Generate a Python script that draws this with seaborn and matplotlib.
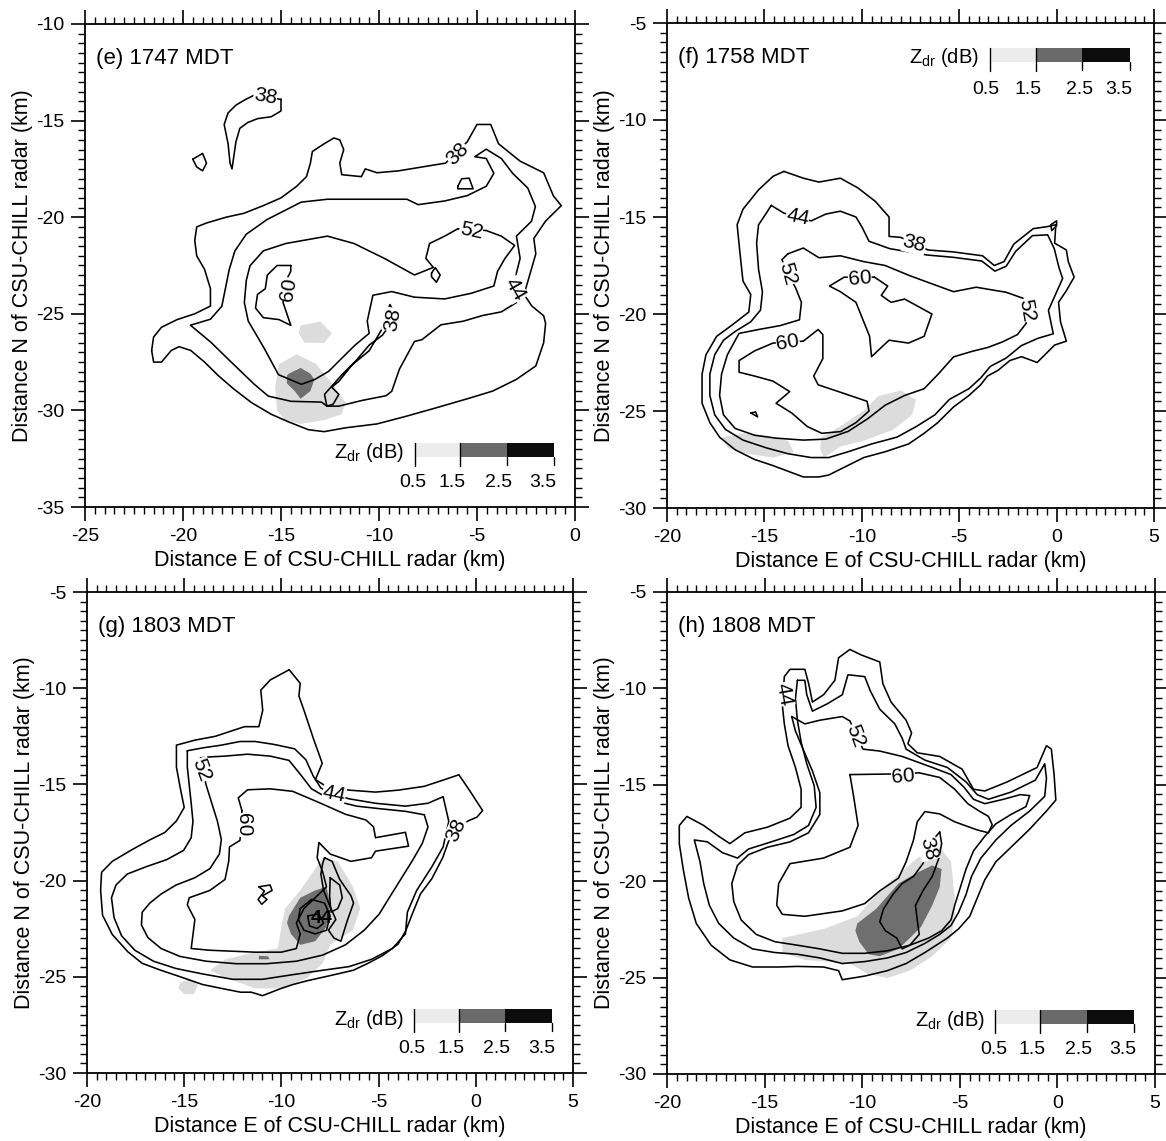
import numpy as np
import pandas as pd
import matplotlib
matplotlib.use("Agg")
import matplotlib.pyplot as plt
from matplotlib.ticker import MultipleLocator
from matplotlib.patches import Rectangle
import seaborn as sns

sns.set_theme(style="ticks")
plt.rcParams['font.family'] = ['Liberation Sans', 'DejaVu Sans']
plt.rcParams['axes.unicode_minus'] = False
for k in ['text.color', 'axes.labelcolor', 'xtick.color', 'ytick.color', 'axes.edgecolor']:
    plt.rcParams[k] = 'black'

# ---------------- panel (e) 1747 MDT ----------------
E38_NW = [(-15.0, -13.9), (-15.0, -14.5), (-15.5, -14.8), (-16.2, -14.9), (-16.7, -15.1), (-17.1, -15.4),
          (-17.3, -16.1), (-17.4, -16.8), (-17.5, -17.5), (-17.6, -17.2), (-17.7, -16.2), (-17.9, -15.2),
          (-17.7, -14.6), (-17.3, -14.2), (-16.8, -13.9), (-16.4, -13.7), (-15.0, -13.9)]
E38_BLOB = [(-19.5, -17.0), (-19.0, -16.7), (-18.8, -17.2), (-19.0, -17.6), (-19.3, -17.4), (-19.5, -17.0)]
E38_BLOB2 = [(-5.98, -18.4), (-5.78, -18.01), (-5.4, -17.98), (-5.2, -18.53), (-5.98, -18.53), (-5.98, -18.4)]
E38_OUTER = [(-21.6, -26.9), (-21.5, -26.2), (-21.1, -25.7), (-20.3, -25.3), (-19.4, -25.0), (-18.6, -24.6),
             (-18.6, -23.7), (-18.9, -22.7), (-19.3, -22.0), (-19.4, -21.2), (-19.3, -20.5), (-18.8, -20.3),
             (-17.8, -20.0), (-16.9, -19.8), (-15.9, -19.4), (-15.0, -19.0), (-14.2, -18.4), (-13.7, -17.9),
             (-13.5, -17.2), (-13.4, -16.6), (-12.8, -16.2), (-12.3, -15.9), (-12.0, -16.0), (-11.8, -16.5),
             (-12.0, -17.2), (-11.9, -17.8), (-10.9, -17.9), (-10.7, -17.5), (-10.1, -17.7), (-9.0, -17.6),
             (-7.8, -17.4), (-6.6, -17.2), (-5.5, -16.1), (-5.0, -15.2), (-4.3, -15.2), (-3.9, -16.2),
             (-2.8, -17.1), (-1.6, -17.7), (-1.1, -18.9), (-0.7, -19.4), (-1.5, -20.2), (-2.1, -21.1),
             (-2.0, -21.9), (-2.4, -23.3), (-2.6, -24.0), (-2.2, -24.6), (-1.6, -25.1), (-1.5, -25.5),
             (-1.6, -26.5), (-2.0, -27.7), (-3.0, -28.4), (-4.2, -29.0), (-5.5, -29.4), (-7.2, -29.9),
             (-8.6, -30.3), (-10.1, -30.7), (-11.7, -30.9), (-12.8, -31.1), (-13.6, -31.0), (-14.6, -30.6),
             (-15.5, -30.2), (-16.5, -29.6), (-17.4, -28.9), (-18.2, -28.2), (-18.9, -27.5), (-19.6, -26.9),
             (-20.2, -26.7), (-20.6, -26.9), (-21.1, -27.5), (-21.5, -27.5), (-21.6, -26.9)]
E38_NOTCH = [(-12.66, -29.78), (-12.78, -29.17), (-11.89, -28.15), (-11.22, -27.48), (-10.5, -26.62),
             (-9.83, -26.11), (-9.44, -25.57), (-9.25, -24.9), (-9.44, -24.52), (-9.64, -25.0), (-9.83, -25.76),
             (-10.5, -26.91), (-11.37, -27.64), (-12.05, -28.5), (-12.41, -28.8), (-12.05, -29.17),
             (-12.34, -29.68), (-12.66, -29.78)]
E44 = [(-12.66, -29.78), (-12.93, -29.57), (-14.48, -29.53), (-15.65, -29.26), (-16.36, -28.65), (-17.56, -27.48),
       (-18.58, -26.47), (-19.62, -25.59), (-18.6, -25.28), (-18.02, -24.61), (-17.83, -23.66), (-17.64, -22.7),
       (-17.35, -21.74), (-16.77, -20.88), (-15.71, -20.12), (-13.97, -19.22), (-12.63, -19.07), (-10.12, -19.07),
       (-8.58, -19.07), (-8.0, -19.35), (-6.65, -19.16), (-5.49, -18.88), (-4.53, -18.4), (-4.14, -17.73),
       (-4.53, -16.96), (-5.11, -16.87), (-4.53, -16.48), (-3.76, -16.96), (-3.18, -17.73), (-2.41, -18.49),
       (-2.02, -19.45), (-2.22, -20.21), (-2.99, -20.98), (-2.8, -22.13), (-2.99, -22.89), (-3.08, -23.75),
       (-2.99, -24.42), (-3.76, -24.9), (-4.72, -25.09), (-5.69, -25.38), (-6.84, -25.57), (-7.81, -26.34),
       (-8.19, -26.43), (-8.96, -27.87), (-9.35, -29.01), (-9.64, -29.24), (-10.89, -29.49), (-12.05, -29.78),
       (-12.66, -29.78)]
E52 = [(-5.98, -20.6), (-6.65, -20.98), (-7.42, -21.36), (-7.61, -22.13), (-7.23, -22.6), (-8.19, -22.99),
       (-9.73, -22.13), (-11.28, -21.36), (-12.63, -20.98), (-14.75, -21.36), (-15.9, -21.74), (-16.58, -22.51),
       (-16.77, -23.27), (-16.87, -24.42), (-16.67, -25.38), (-15.86, -26.78), (-15.13, -28.15), (-13.96, -28.65),
       (-13.28, -28.4), (-12.57, -27.98), (-11.89, -27.29), (-11.22, -26.62), (-10.5, -26.01), (-10.6, -25.38),
       (-10.31, -24.04), (-9.35, -23.85), (-8.19, -24.14), (-6.65, -24.23), (-5.3, -23.94), (-4.14, -23.56),
       (-3.95, -22.8), (-3.57, -22.13), (-3.08, -21.46), (-3.76, -20.98), (-4.53, -20.69), (-5.98, -20.6)]
E52_DOT = [(-7.32, -22.89), (-7.13, -22.61), (-6.88, -22.99), (-7.07, -23.37), (-7.32, -23.08), (-7.32, -22.89)]
E60 = [(-14.5, -22.5), (-15.2, -22.5), (-15.7, -23.0), (-15.8, -23.7), (-16.2, -24.0), (-16.3, -24.7),
       (-15.9, -25.2), (-15.1, -25.3), (-14.5, -25.6), (-14.7, -25.0), (-14.9, -24.4), (-14.6, -23.7),
       (-14.7, -23.2), (-14.5, -22.8), (-14.5, -22.5)]
E_LABELS = [("38", -15.8, -13.75, -10), ("38", -6.0, -16.7, 45), ("60", -14.6, -23.75, 80),
            ("38", -9.3, -25.3, 80), ("44", -3.08, -23.75, -60), ("52", -5.3, -20.69, -12)]
E_ZDR_LIGHT = [[(-15.1, -27.6), (-14.2, -27.1), (-13.2, -27.6), (-12.4, -28.6), (-11.7, -29.6), (-11.9, -30.2),
                (-12.8, -30.5), (-14.0, -30.7), (-14.8, -30.5), (-15.2, -30.0), (-15.3, -28.8)],
               [(-14.0, -25.6), (-13.0, -25.4), (-12.4, -26.0), (-12.8, -26.5), (-13.8, -26.5), (-14.1, -26.0)]]
E_ZDR_MID = [[(-14.6, -28.1), (-14.0, -27.8), (-13.5, -28.1), (-13.3, -28.4), (-13.5, -29.0), (-14.0, -29.4),
              (-14.3, -29.0), (-14.7, -28.6), (-14.7, -28.2)]]

# ---------------- panel (f) 1758 MDT ----------------
F38 = [(-14.0, -12.65), (-13.0, -13.0), (-12.2, -13.2), (-11.1, -13.0), (-10.2, -13.5), (-9.3, -14.2),
       (-8.6, -15.0), (-8.6, -16.0), (-8.0, -16.05), (-6.6, -16.7), (-5.3, -16.8), (-3.8, -17.0),
       (-3.2, -17.5), (-2.7, -17.3), (-2.2, -16.4), (-1.2, -15.6), (-0.5, -15.5), (-0.04, -15.4),
       (-0.1, -16.35), (0.5, -16.7), (0.6, -17.3), (0.9, -18.1), (0.5, -18.8), (0.1, -19.4), (0.2, -20.4),
       (0.5, -21.4), (-0.1, -21.6), (-1.0, -22.5), (-1.8, -22.2), (-2.4, -22.4), (-3.0, -22.9), (-3.55, -23.2),
       (-3.9, -23.65), (-4.5, -24.2), (-5.3, -24.8), (-6.1, -25.6), (-6.8, -26.15), (-7.6, -26.7),
       (-8.8, -27.1), (-9.9, -27.4), (-10.7, -27.8), (-11.7, -28.3), (-12.2, -28.4), (-13.0, -28.4),
       (-13.8, -28.1), (-14.6, -27.8), (-15.5, -27.5), (-16.5, -27.0), (-17.3, -26.35), (-17.8, -25.6),
       (-18.2, -24.6), (-18.2, -23.1), (-18.0, -22.1), (-17.45, -21.15), (-16.7, -20.6), (-15.8, -19.9),
       (-15.7, -19.0), (-16.1, -18.3), (-16.25, -16.9), (-16.4, -15.4), (-16.1, -14.6), (-15.3, -13.6),
       (-14.55, -12.9), (-14.0, -12.65)]
F38_TAIL = [(-0.3, -15.4), (0.0, -15.2), (0.0, -15.45), (-0.25, -15.7), (-0.3, -15.4)]
F44 = [(-14.65, -14.4), (-14.0, -14.8), (-12.6, -15.2), (-11.85, -14.85), (-11.1, -14.7), (-10.3, -15.0),
       (-10.0, -15.5), (-9.63, -16.25), (-8.57, -16.63), (-6.64, -16.96), (-5.29, -17.08), (-3.84, -17.27),
       (-3.17, -17.79), (-2.59, -17.54), (-2.1, -16.77), (-1.24, -15.96), (-0.46, -15.92), (-0.12, -16.63),
       (0.12, -17.6), (0.31, -18.17), (-0.42, -19.81), (-0.17, -21.02), (-0.95, -21.25), (-1.81, -21.63),
       (-2.59, -22.27), (-3.4, -22.7), (-3.9, -23.3), (-4.5, -23.85), (-5.5, -24.4), (-6.25, -25.2),
       (-7.2, -25.8), (-8.2, -26.35), (-9.5, -26.7), (-10.7, -27.1), (-11.7, -27.4), (-12.6, -27.4),
       (-13.8, -27.2), (-14.9, -26.9), (-16.1, -26.5), (-17.0, -25.95), (-17.55, -25.2), (-17.8, -24.2),
       (-17.8, -23.1), (-17.55, -22.1), (-17.1, -21.35), (-16.5, -20.9), (-15.7, -20.4), (-15.2, -19.8),
       (-15.1, -18.85), (-15.3, -17.7), (-15.4, -16.35), (-15.3, -15.4), (-14.9, -14.8), (-14.65, -14.4)]
F52 = [(-13.8, -16.9), (-13.0, -16.6), (-12.2, -17.1), (-11.1, -17.0), (-9.9, -17.3), (-8.8, -17.5),
       (-7.6, -18.0), (-6.25, -18.5), (-5.29, -18.85), (-4.13, -18.62), (-2.59, -18.88), (-1.72, -19.19),
       (-1.53, -19.81), (-1.56, -20.48), (-2.01, -21.06), (-2.78, -21.44), (-3.55, -21.73), (-4.32, -21.92),
       (-5.29, -22.21), (-6.06, -23.08), (-6.8, -23.85), (-7.8, -24.2), (-8.8, -24.7), (-9.7, -25.4),
       (-10.7, -26.05), (-11.85, -26.45), (-13.0, -26.5), (-14.4, -26.4), (-15.5, -26.25), (-16.5, -25.9),
       (-17.1, -25.2), (-17.3, -24.2), (-17.2, -23.1), (-16.9, -22.1), (-16.3, -21.0), (-15.3, -20.8),
       (-14.2, -20.6), (-13.2, -20.3), (-13.1, -19.4), (-13.4, -18.65), (-13.8, -17.9), (-14.1, -17.2),
       (-13.8, -16.9)]
F60_N = [(-9.35, -18.1), (-8.67, -18.56), (-9.0, -19.04), (-8.5, -19.4), (-7.8, -19.23), (-6.4, -20.0),
         (-6.8, -21.15), (-7.6, -21.5), (-8.6, -21.35), (-9.5, -22.2), (-9.6, -21.15), (-9.9, -20.4),
         (-10.3, -19.4), (-11.1, -18.85), (-11.66, -18.56), (-10.9, -18.1), (-9.35, -18.1)]
F60_S = [(-13.0, -21.4), (-12.24, -20.8), (-12.0, -21.06), (-12.0, -22.3), (-12.47, -23.2), (-12.24, -23.65),
         (-11.08, -24.04), (-9.73, -24.5), (-9.63, -25.0), (-10.3, -25.6), (-11.08, -26.06), (-12.05, -26.15),
         (-12.8, -25.8), (-13.6, -25.1), (-14.4, -24.6), (-13.7, -24.0), (-14.56, -23.46), (-15.5, -23.2),
         (-16.3, -23.0), (-16.3, -22.4), (-15.5, -21.9), (-14.56, -21.5), (-13.0, -21.4)]
F60_DOT = [(-15.7, -25.1), (-15.45, -25.05), (-15.35, -25.3), (-15.7, -25.1)]
F_LABELS = [("38", -7.3, -16.4, -15), ("44", -13.3, -15.0, -12), ("52", -13.8, -17.9, -75),
            ("52", -1.53, -19.8, -80), ("60", -10.1, -18.15, 5), ("60", -13.8, -21.45, 10)]
F_ZDR_LIGHT = [[(-12.05, -26.35), (-11.08, -25.77), (-9.92, -25.0), (-9.15, -24.23), (-7.99, -23.94),
                (-7.22, -24.42), (-7.41, -25.19), (-8.38, -25.96), (-9.92, -26.54), (-11.08, -26.83),
                (-11.95, -27.4), (-12.14, -26.92)],
               [(-17.16, -26.35), (-16.1, -26.15), (-14.94, -26.25), (-13.78, -26.54), (-13.49, -27.12),
                (-14.55, -27.4), (-15.9, -27.2), (-16.87, -26.92)]]
F_ZDR_MID = []

# ---------------- panel (g) 1803 MDT ----------------
G38 = [(-9.6, -9.04), (-9.03, -9.75), (-9.1, -10.4), (-8.8, -11.26), (-8.36, -12.6), (-7.9, -13.9),
       (-8.25, -14.75), (-7.7, -15.1), (-6.5, -15.3), (-5.16, -15.4), (-4.0, -15.3), (-2.65, -15.1),
       (-1.6, -14.75), (-0.87, -14.5), (-0.33, -15.3), (0.35, -16.36), (0.06, -16.7), (-0.4, -16.9),
       (-1.0, -17.4), (-1.4, -17.96), (-1.7, -18.8), (-2.26, -19.9), (-2.85, -20.7), (-3.23, -21.64),
       (-3.6, -22.6), (-4.0, -23.3), (-4.8, -23.9), (-5.55, -24.3), (-6.3, -24.66), (-7.5, -24.94),
       (-8.65, -25.2), (-9.4, -25.4), (-10.0, -25.6), (-10.97, -25.98), (-11.55, -25.8), (-12.1, -25.8),
       (-13.1, -25.6), (-14.06, -25.4), (-15.2, -25.0), (-16.2, -24.66), (-17.16, -24.3), (-17.9, -23.7),
       (-18.7, -22.8), (-19.2, -21.8), (-19.3, -20.5), (-19.25, -19.57), (-18.7, -19.0), (-17.7, -18.4),
       (-16.8, -17.9), (-16.0, -17.5), (-15.4, -16.9), (-15.0, -16.2), (-15.2, -15.2), (-15.4, -14.1),
       (-15.4, -12.96), (-14.45, -12.7), (-13.4, -12.5), (-12.5, -12.2), (-11.9, -12.0), (-11.16, -12.0),
       (-10.96, -11.15), (-11.06, -10.1), (-10.57, -9.57), (-9.6, -9.04)]
G44 = [(-14.84, -13.25), (-13.97, -13.09), (-13.09, -12.96), (-12.13, -12.77), (-11.35, -12.77), (-10.39, -12.92),
       (-9.32, -13.15), (-8.74, -13.72), (-8.36, -14.57), (-7.97, -15.19), (-7.29, -15.51), (-6.52, -15.75),
       (-5.16, -15.98), (-3.62, -16.13), (-2.46, -15.98), (-1.68, -15.64), (-1.39, -16.92), (-1.68, -18.25),
       (-2.26, -19.28), (-3.04, -20.51), (-3.52, -21.64), (-3.62, -22.77), (-4.29, -23.53), (-5.36, -24.09),
       (-6.52, -24.47), (-7.87, -24.66), (-9.42, -24.89), (-10.97, -25.13), (-12.51, -25.13), (-14.06, -24.85),
       (-15.42, -24.57), (-16.58, -24.19), (-17.54, -23.62), (-18.22, -22.87), (-18.61, -21.92), (-18.74, -20.89),
       (-18.51, -20.23), (-17.93, -19.66), (-16.96, -19.28), (-15.9, -18.91), (-15.03, -18.43), (-14.64, -17.77),
       (-14.55, -16.92), (-14.64, -15.98), (-14.74, -15.04), (-14.84, -14.09), (-14.84, -13.25)]
G52 = [(-14.16, -13.62), (-14.06, -14.19), (-13.87, -15.04), (-13.58, -15.98), (-13.29, -16.92), (-13.09, -17.87),
       (-13.19, -18.62), (-13.68, -19.38), (-14.45, -19.85), (-15.42, -20.23), (-16.19, -20.7), (-16.77, -21.17),
       (-17.16, -21.64), (-17.2, -22.3), (-16.87, -22.96), (-16.19, -23.53), (-15.22, -23.94), (-13.87, -24.19),
       (-12.32, -24.32), (-10.77, -24.32), (-9.23, -24.19), (-7.87, -23.87), (-6.71, -23.34), (-5.74, -22.58),
       (-4.97, -21.74), (-4.39, -20.79), (-3.81, -19.85), (-3.23, -18.91), (-2.75, -18.06), (-2.46, -17.21),
       (-2.65, -16.58), (-3.62, -16.4), (-4.97, -16.26), (-6.13, -16.13), (-7.49, -15.79), (-8.45, -15.23),
       (-9.03, -14.47), (-9.61, -13.75), (-10.58, -13.53), (-11.74, -13.43), (-12.9, -13.53), (-13.68, -13.57),
       (-14.16, -13.62)]
G60 = [(-12.03, -16.36), (-12.22, -15.7), (-11.74, -15.28), (-10.58, -15.23), (-9.42, -15.36), (-8.07, -15.94),
       (-6.71, -16.55), (-5.65, -16.85), (-5.26, -17.21), (-5.16, -17.77), (-3.62, -17.49), (-3.46, -18.21),
       (-5.16, -18.47), (-5.36, -18.81), (-6.42, -19.0), (-7.49, -18.62), (-8.07, -18.02), (-8.16, -18.81),
       (-7.87, -19.57), (-7.68, -20.32), (-8.26, -20.89), (-8.84, -21.45), (-9.23, -22.21), (-9.03, -22.77),
       (-9.23, -23.53), (-10.0, -23.72), (-11.35, -23.72), (-13.68, -23.62), (-14.64, -23.53), (-14.45, -22.02),
       (-14.84, -21.26), (-14.74, -20.89), (-13.68, -20.51), (-12.9, -19.94), (-12.71, -19.0), (-12.67, -18.25),
       (-12.13, -17.91), (-12.03, -16.36)]
G_IN1 = [(-7.78, -18.81), (-7.39, -19.0), (-7.0, -19.94), (-6.42, -20.79), (-6.29, -21.17), (-6.62, -22.11),
         (-6.94, -23.15), (-7.29, -22.99), (-7.58, -22.58), (-7.2, -22.02), (-7.49, -21.36), (-7.83, -20.51),
         (-7.97, -19.66), (-7.87, -19.09), (-7.78, -18.81)]
G_IN2 = [(-7.49, -19.85), (-7.0, -20.23), (-6.87, -20.89), (-7.1, -21.45), (-7.45, -21.64), (-7.52, -20.79),
         (-7.49, -19.85)]
G_IN3 = [(-9.03, -21.45), (-8.45, -20.98), (-7.78, -21.17), (-7.49, -21.83), (-7.68, -22.58), (-8.26, -22.77),
         (-8.84, -22.58), (-9.13, -22.02), (-9.03, -21.45)]
G_IN4 = [(-8.65, -21.83), (-8.07, -21.74), (-7.83, -22.21), (-8.16, -22.49), (-8.55, -22.36), (-8.65, -21.83)]
G_HOOK = [(-11.16, -20.32), (-10.58, -20.23), (-10.48, -20.51), (-10.97, -20.79), (-10.74, -20.98),
          (-11.01, -21.23), (-11.2, -20.98), (-10.87, -20.55), (-11.16, -20.32)]
G_LABELS = [("38", -1.0, -17.4, 65), ("44", -7.29, -15.51, -12), ("52", -14.1, -14.25, -70),
            ("60", -11.95, -17.1, -90)]
G_ZDR_LIGHT = [[(-9.81, -21.45), (-9.03, -20.51), (-7.87, -18.81), (-7.1, -19.0), (-6.32, -20.32),
                (-5.94, -21.45), (-6.32, -22.58), (-7.49, -23.34), (-7.87, -24.28), (-8.65, -25.04),
                (-9.81, -25.6), (-11.35, -25.6), (-12.9, -25.04), (-13.67, -24.66), (-12.9, -24.1),
                (-11.35, -23.72), (-10.19, -23.53), (-10.0, -22.4)],
               [(-15.2, -25.3), (-14.7, -25.1), (-14.3, -25.4), (-14.5, -25.9), (-15.0, -25.9), (-15.3, -25.6)]]
G_ZDR_MID = [[(-9.61, -21.83), (-9.03, -20.89), (-8.26, -20.51), (-7.68, -20.32), (-7.49, -21.26),
              (-7.68, -22.4), (-8.26, -23.15), (-9.03, -23.34), (-9.51, -22.77), (-9.71, -22.2)],
             [(-11.16, -23.91), (-10.68, -23.94), (-10.62, -24.09), (-11.16, -24.09)]]

# ---------------- panel (h) 1808 MDT ----------------
H38 = [(-11.21, -8.41), (-10.63, -7.98), (-10.06, -8.26), (-9.1, -8.63), (-8.94, -9.76), (-8.52, -10.71),
       (-7.75, -11.65), (-7.47, -12.31), (-7.66, -12.87), (-7.18, -13.34), (-6.03, -13.53), (-4.88, -14.19),
       (-4.3, -15.23), (-3.72, -15.32), (-2.57, -14.85), (-1.04, -14.1), (-0.56, -12.97), (-0.31, -13.15),
       (-0.17, -14.47), (-0.08, -15.79), (-0.56, -16.36), (-1.42, -17.3), (-2.38, -18.24), (-3.15, -18.99),
       (-3.72, -19.93), (-4.11, -20.88), (-4.49, -21.82), (-5.07, -22.48), (-5.64, -22.95), (-6.79, -23.7),
       (-7.75, -24.27), (-8.71, -24.64), (-9.87, -24.92), (-11.02, -25.11), (-11.21, -24.64), (-11.98, -24.45),
       (-13.32, -24.42), (-14.28, -24.45), (-15.62, -24.45), (-16.78, -24.08), (-17.74, -23.32), (-18.5, -22.19),
       (-18.89, -20.88), (-19.17, -19.37), (-19.37, -18.05), (-19.37, -17.11), (-18.98, -16.64), (-18.12, -17.11),
       (-17.35, -17.67), (-16.78, -18.05), (-16.01, -17.49), (-14.86, -17.2), (-13.7, -16.73), (-13.13, -16.17),
       (-13.13, -15.23), (-13.42, -14.1), (-13.8, -12.97), (-13.99, -11.84), (-14.09, -10.89), (-13.99, -9.39),
       (-13.7, -9.01), (-12.94, -9.01), (-12.74, -9.76), (-12.55, -10.71), (-11.98, -10.33), (-11.4, -9.58),
       (-11.21, -8.41)]
H44 = [(-13.32, -9.58), (-12.94, -9.58), (-12.84, -10.33), (-12.55, -11.18), (-11.79, -10.8), (-11.02, -10.33),
       (-10.73, -9.29), (-9.87, -9.39), (-9.58, -10.14), (-9.1, -11.08), (-8.33, -11.84), (-7.95, -12.59),
       (-7.75, -13.15), (-6.79, -13.72), (-5.64, -14.1), (-4.68, -14.85), (-4.11, -15.51), (-3.53, -15.75),
       (-2.38, -15.38), (-1.13, -14.76), (-0.65, -13.91), (-0.56, -14.66), (-0.65, -15.6), (-1.42, -16.36),
       (-2.38, -17.11), (-3.15, -17.86), (-3.92, -18.8), (-4.4, -19.75), (-4.68, -20.69), (-5.07, -21.63),
       (-5.45, -22.29), (-6.03, -22.76), (-6.8, -23.23), (-7.75, -23.7), (-8.71, -23.98), (-9.87, -24.17),
       (-11.02, -24.27), (-12.17, -23.98), (-13.32, -23.79), (-14.47, -23.7), (-15.62, -23.51), (-16.58, -22.95),
       (-17.35, -22.19), (-17.83, -21.25), (-18.12, -20.12), (-18.31, -18.99), (-18.6, -17.86), (-17.93, -17.96),
       (-17.16, -18.52), (-16.39, -18.8), (-15.82, -18.33), (-14.66, -17.96), (-13.51, -17.58), (-12.75, -17.11),
       (-12.36, -16.17), (-12.46, -15.04), (-12.84, -13.91), (-13.13, -12.78), (-13.32, -11.65), (-13.42, -10.52),
       (-13.32, -9.58)]
H52 = [(-13.61, -11.46), (-12.94, -11.84), (-12.17, -11.65), (-11.02, -11.46), (-10.63, -11.69), (-10.35, -12.31),
       (-9.96, -13.15), (-9.1, -13.25), (-7.95, -13.53), (-6.41, -14.1), (-5.45, -14.47), (-4.78, -15.13),
       (-4.3, -15.75), (-3.72, -15.98), (-2.76, -15.75), (-1.9, -15.51), (-1.42, -15.56), (-1.61, -16.13),
       (-2.38, -16.54), (-3.15, -17.02), (-3.72, -17.67), (-4.3, -18.43), (-4.68, -19.37), (-4.97, -20.31),
       (-5.26, -21.25), (-5.45, -22.01), (-5.93, -22.57), (-6.6, -22.95), (-7.56, -23.32), (-8.71, -23.61),
       (-9.87, -23.74), (-11.02, -23.74), (-12.17, -23.51), (-13.32, -23.32), (-14.47, -23.14), (-15.43, -22.76),
       (-16.2, -22.01), (-16.58, -21.06), (-16.68, -20.12), (-16.39, -19.18), (-15.82, -18.62), (-14.86, -18.24),
       (-13.7, -17.96), (-12.75, -17.49), (-12.17, -16.54), (-12.17, -15.41), (-12.55, -14.28), (-13.03, -13.15),
       (-13.42, -12.21), (-13.61, -11.46)]
H60 = [(-10.63, -14.47), (-8.52, -14.44), (-7.08, -14.38), (-6.03, -14.62), (-5.26, -15.23), (-4.59, -15.98),
       (-4.01, -16.36), (-3.53, -16.64), (-3.34, -17.07), (-3.53, -17.49), (-4.11, -17.34), (-5.26, -16.92),
       (-6.03, -16.51), (-6.79, -16.39), (-7.18, -16.92), (-7.37, -17.86), (-7.75, -18.99), (-8.14, -19.84),
       (-9.1, -20.5), (-9.87, -21.16), (-11.02, -21.54), (-12.94, -21.82), (-14.09, -21.72), (-14.38, -21.25),
       (-14.28, -20.12), (-13.7, -19.09), (-11.98, -18.8), (-10.63, -18.24), (-10.21, -17.11), (-10.44, -15.6),
       (-10.63, -14.47)]
H_IN1 = [(-6.03, -17.45), (-6.31, -17.77), (-6.6, -18.24), (-6.89, -19.09), (-7.37, -19.75), (-7.95, -20.12),
         (-8.43, -20.69), (-8.91, -21.44), (-9.1, -22.1), (-8.81, -22.57), (-8.23, -22.95), (-7.95, -23.51),
         (-7.56, -23.32), (-7.08, -22.76), (-7.18, -22.01), (-7.27, -21.25), (-6.89, -20.5), (-6.41, -19.75),
         (-6.07, -18.8), (-5.93, -18.05), (-6.03, -17.45)]
H_LABELS = [("44", -14.0, -10.3, -80), ("52", -10.35, -12.45, -70), ("60", -7.9, -14.55, 5),
            ("38", -6.6, -18.3, -75)]
H_ZDR_LIGHT = [[(-14.09, -22.95), (-11.98, -22.48), (-10.25, -21.82), (-9.1, -20.5), (-7.18, -18.8),
                (-6.03, -18.24), (-5.45, -18.99), (-5.26, -20.88), (-5.26, -21.82), (-5.45, -22.95),
                (-6.41, -23.89), (-7.56, -24.64), (-8.71, -25.02), (-9.67, -24.83), (-10.63, -24.27),
                (-12.94, -24.08), (-14.09, -23.7)]]
H_ZDR_MID = [[(-10.25, -22.19), (-9.29, -21.44), (-8.14, -20.12), (-7.18, -19.56), (-6.41, -19.18),
              (-5.93, -19.37), (-6.03, -20.31), (-6.41, -21.25), (-6.99, -22.38), (-7.56, -22.95),
              (-8.14, -23.51), (-9.1, -23.89), (-9.67, -23.79), (-10.15, -23.14), (-10.35, -22.57)]]

ZDR_TICKS = ["0.5", "1.5", "2.5", "3.5"]
ZDR_COLORS = ["#ececec", "#6a6a6a", "#0c0c0c"]
LIGHT = "#dcdcdc"
MID = "#6f6f6f"

W, H = 1166, 1141
fig = plt.figure(figsize=(W / 100, H / 100), dpi=100)


def box(l, r, t, b):
    return [l / W, 1 - b / H, (r - l) / W, (b - t) / H]


def draw_line(ax, pts):
    df = pd.DataFrame(pts, columns=["x", "y"])
    sns.lineplot(data=df, x="x", y="y", sort=False, estimator=None, color="black",
                 linewidth=1.15, ax=ax, zorder=3)


def zdr_legend(ax, top):
    if top:
        x0, x1, b1, b2 = 0.663, 0.951, 0.758, 0.852
        yb, yt, ylab = 0.920, 0.948, 0.862
        labx = [0.655, 0.741, 0.848, 0.928]
        ytxt = 0.928
    else:
        x0, x1, b1, b2 = 0.673, 0.957, 0.765, 0.861
        yb, yt, ylab = 0.1035, 0.1325, 0.050
        labx = [0.669, 0.749, 0.843, 0.935]
        ytxt = 0.112
    edges = [x0, b1, b2, x1]
    for i in range(3):
        ax.add_patch(Rectangle((edges[i], yb), edges[i + 1] - edges[i], yt - yb, transform=ax.transAxes,
                               fc=ZDR_COLORS[i], ec="none", zorder=5))
    for i, e in enumerate(edges):
        lo = yb - 0.018 if i in (0, 1) else yb - 0.016
        hi = yt if i in (0, 1) else yb
        ax.plot([e, e], [lo, hi], transform=ax.transAxes, color="black", lw=1.0, zorder=6)
    for lx, t in zip(labx, ZDR_TICKS):
        ax.text(lx, ylab, t, transform=ax.transAxes, ha="center", va="center", fontsize=14, zorder=6)
    ax.text(x0 - 0.022, ytxt, r"$\mathregular{Z_{dr}}$ (dB)", transform=ax.transAxes, ha="right",
            va="center", fontsize=14.5, zorder=6)


def panel(rect, title, xlim, ylim, lines, labels, light, mid, top_legend):
    ax = fig.add_axes(rect)
    for poly in light:
        xs, ys = zip(*poly)
        ax.fill(xs, ys, color=LIGHT, lw=0, zorder=1)
    for poly in mid:
        xs, ys = zip(*poly)
        ax.fill(xs, ys, color=MID, lw=0, zorder=2)
    for pts in lines:
        draw_line(ax, pts)
    for txt, x, y, rot in labels:
        ax.text(x, y, txt, rotation=rot, ha="center", va="center", fontsize=15, zorder=4,
                rotation_mode="anchor", bbox=dict(fc="white", ec="none", pad=0.15))
    ax.set_xlim(*xlim)
    ax.set_ylim(*ylim)
    ax.set_xticks(np.arange(xlim[0], xlim[1] + 0.1, 5))
    ax.set_yticks(np.arange(ylim[0], ylim[1] + 0.1, 5))
    ax.xaxis.set_minor_locator(MultipleLocator(0.5))
    ax.yaxis.set_minor_locator(MultipleLocator(0.5))
    ax.tick_params(which="major", direction="out", length=10, width=1.2, top=True, right=True,
                   labelsize=14, pad=5)
    ax.tick_params(which="minor", direction="out", length=5, width=1.0, top=True, right=True)
    for s in ax.spines.values():
        s.set_linewidth(1.3)
    ax.set_xlabel("Distance E of CSU-CHILL radar (km)", fontsize=15.5, labelpad=4)
    ax.set_ylabel("Distance N of CSU-CHILL radar (km)", fontsize=15.5, labelpad=2)
    ax.text(0.023, 0.928, title, transform=ax.transAxes, ha="left", va="center", fontsize=16)
    zdr_legend(ax, top_legend)
    return ax


panel(box(85, 575, 24, 507), "(e) 1747 MDT", (-25, 0), (-35, -10),
      [E38_NW, E38_BLOB, E38_BLOB2, E38_OUTER, E38_NOTCH, E44, E52, E52_DOT, E60],
      E_LABELS, E_ZDR_LIGHT, E_ZDR_MID, False)
panel(box(667, 1154, 23, 508), "(f) 1758 MDT", (-20, 5), (-30, -5),
      [F38, F38_TAIL, F44, F52, F60_N, F60_S, F60_DOT], F_LABELS, F_ZDR_LIGHT, F_ZDR_MID, True)
gax = panel(box(87, 573, 592, 1073), "(g) 1803 MDT", (-20, 5), (-30, -5),
            [G38, G44, G52, G60, G_IN1, G_IN2, G_IN3, G_IN4, G_HOOK], G_LABELS, G_ZDR_LIGHT, G_ZDR_MID, False)
gax.text(-7.95, -21.95, "44", ha="center", va="center", fontsize=14, fontweight="bold", zorder=5)
panel(box(667, 1155, 592, 1074), "(h) 1808 MDT", (-20, 5), (-30, -5),
      [H38, H44, H52, H60, H_IN1], H_LABELS, H_ZDR_LIGHT, H_ZDR_MID, False)

fig.savefig("out.png", dpi=100, facecolor="white")
